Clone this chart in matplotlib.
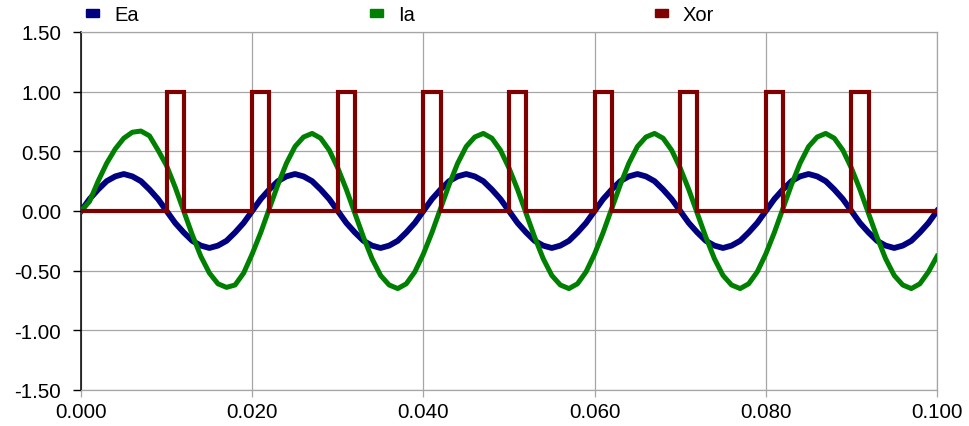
import matplotlib
matplotlib.use("Agg")
import matplotlib.pyplot as plt
from matplotlib.patches import Rectangle
import numpy as np

t_ms = np.arange(0, 101)  # 0 .. 100 ms
ea = [0.00, 0.10, 0.18, 0.25, 0.29, 0.31, 0.29, 0.25, 0.18, 0.10,
      0.00, -0.10, -0.18, -0.25, -0.29, -0.31, -0.29, -0.25, -0.18, -0.10,
      0.00, 0.10, 0.18, 0.25, 0.29, 0.31, 0.29, 0.25, 0.18, 0.10,
      0.00, -0.10, -0.18, -0.25, -0.29, -0.31, -0.29, -0.25, -0.18, -0.10,
      0.00, 0.10, 0.18, 0.25, 0.29, 0.31, 0.29, 0.25, 0.18, 0.10,
      0.00, -0.10, -0.18, -0.25, -0.29, -0.31, -0.29, -0.25, -0.18, -0.10,
      0.00, 0.10, 0.18, 0.25, 0.29, 0.31, 0.29, 0.25, 0.18, 0.10,
      0.00, -0.10, -0.18, -0.25, -0.29, -0.31, -0.29, -0.25, -0.18, -0.10,
      0.00, 0.10, 0.18, 0.25, 0.29, 0.31, 0.29, 0.25, 0.18, 0.10,
      0.00, -0.10, -0.18, -0.25, -0.29, -0.31, -0.29, -0.25, -0.18, -0.10,
      0.00]
ia = [0.00, 0.08, 0.25, 0.40, 0.52, 0.61, 0.66, 0.67, 0.63, 0.51,
      0.38, 0.20, 0.00, -0.20, -0.38, -0.52, -0.61, -0.64, -0.62, -0.52,
      -0.36, -0.18, 0.02, 0.22, 0.40, 0.54, 0.62, 0.65, 0.61, 0.51,
      0.36, 0.18, -0.02, -0.22, -0.40, -0.54, -0.62, -0.65, -0.61, -0.51,
      -0.36, -0.18, 0.02, 0.22, 0.40, 0.54, 0.62, 0.65, 0.61, 0.51,
      0.36, 0.18, -0.02, -0.22, -0.40, -0.54, -0.62, -0.65, -0.61, -0.51,
      -0.36, -0.18, 0.02, 0.22, 0.40, 0.54, 0.62, 0.65, 0.61, 0.51,
      0.36, 0.18, -0.02, -0.22, -0.40, -0.54, -0.62, -0.65, -0.61, -0.51,
      -0.36, -0.18, 0.02, 0.22, 0.40, 0.54, 0.62, 0.65, 0.61, 0.51,
      0.36, 0.18, -0.02, -0.22, -0.40, -0.54, -0.62, -0.65, -0.61, -0.51,
      -0.38]
xor_on = [0.010, 0.020, 0.030, 0.040, 0.050, 0.060, 0.070, 0.080, 0.090]
xor_off = [0.012, 0.022, 0.032, 0.042, 0.052, 0.062, 0.072, 0.082, 0.092]

series = ["Ea", "Ia", "Xor"]
colors = {"Ea": "#000080", "Ia": "#008000", "Xor": "#800000"}

plt.rcParams.update({
    "font.family": ["Liberation Sans", "DejaVu Sans"],
    "font.size": 14.8,
    "axes.unicode_minus": False,
})

t = t_ms / 1000.0
xt, xv = [0.0], [0.0]
for on, off in zip(xor_on, xor_off):
    xt += [on, on, off, off]
    xv += [0, 1, 1, 0]
xt.append(0.1); xv.append(0)

fig = plt.figure(figsize=(9.69, 4.27), dpi=100)
ax = fig.add_axes([81/969, 36/427, 856/969, 358/427])

grid_c = "#a6a6a6"
ax.plot(t, ea, color=colors["Ea"], lw=4.2, solid_joinstyle="round", zorder=3)
ax.plot(t, ia, color=colors["Ia"], lw=3.6, solid_joinstyle="round", zorder=4)
ax.plot(xt, xv, color=colors["Xor"], lw=3.0, solid_joinstyle="miter", zorder=5)

ax.set_xlim(0, 0.1)
ax.set_ylim(-1.5, 1.5)
ax.set_xticks(np.arange(0, 0.1001, 0.02))
ax.set_yticks(np.arange(-1.5, 1.51, 0.5))
ax.set_xticklabels([f"{v:.3f}" for v in ax.get_xticks()])
ax.set_yticklabels([f"{v:.2f}" for v in ax.get_yticks()])
ax.grid(True, color=grid_c, lw=0.9)
ax.set_axisbelow(True)

for s in ["top", "right", "bottom"]:
    ax.spines[s].set_color(grid_c)
    ax.spines[s].set_linewidth(0.9)
ax.spines["left"].set_color("black")
ax.spines["left"].set_linewidth(1.1)
ax.tick_params(axis="y", length=5.8, width=1.0, color="black", pad=8.5)
ax.tick_params(axis="x", length=5, width=0.9, color=grid_c, pad=3.5)

# legend along the top
leg_x = [86, 370, 655]
for name, px in zip(series, leg_x):
    fig.patches.append(Rectangle((px/969, 1 - 17.5/427), 12.5/969, 7.5/427,
                                 transform=fig.transFigure, color=colors[name]))
    fig.text((px + 28)/969, 1 - 15.5/427, name, va="center", ha="left", fontsize=14.5)

fig.savefig("out.png", dpi=100)
